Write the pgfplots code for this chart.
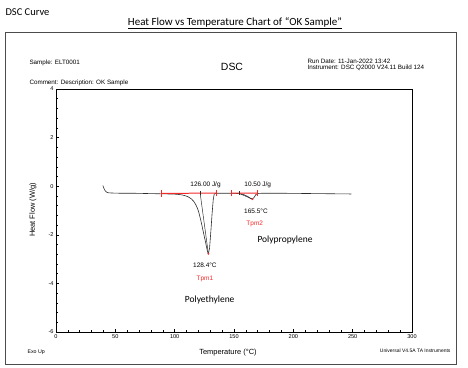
\documentclass[border=0pt]{standalone}
\usepackage{pgfplots}
\pgfplotsset{compat=1.18}
\usepackage{fontspec}
\setmainfont{Liberation Sans}
\newfontfamily\calibri{Carlito}
\definecolor{tared}{RGB}{245,40,40}
\definecolor{curve}{RGB}{45,45,45}
\begin{document}
\begin{tikzpicture}[x=1bp,y=1bp]
\path[use as bounding box] (0,0) rectangle (468,367);
% outer frame
\draw[gray!60!black, line width=0.9pt] (5,335) rectangle (456,3);
% titles
\node[anchor=west, font=\calibri\fontsize{10.5}{12}\selectfont] at (2,355) {DSC Curve};
\node[font=\calibri\fontsize{11}{13}\selectfont] at (235,344) {\underline{Heat Flow vs Temperature Chart of “OK Sample”}};
% header info
\node[anchor=west, font=\fontsize{6.3}{7.5}\selectfont] at (26,304) {Sample: ELT0001};
\node[font=\fontsize{10.5}{12}\selectfont] at (232,300) {DSC};
\node[anchor=west, font=\fontsize{6.3}{7.5}\selectfont, align=left] at (304,302) {Run Date: 11-Jan-2022 13:42\\[-1.5pt]Instrument: DSC Q2000 V24.11 Build 124};
\node[anchor=west, font=\fontsize{6.3}{7.5}\selectfont] at (26,284) {Comment: Description: OK Sample};
% footer
\node[anchor=west, font=\fontsize{5.3}{6}\selectfont] at (24,15) {Exo Up};
\node[font=\fontsize{7.5}{9}\selectfont] at (228,14) {Temperature (°C)};
\node[anchor=east, font=\fontsize{5}{6}\selectfont] at (454,16) {Universal V4.5A TA Instruments};
\node[rotate=90, font=\fontsize{7.5}{9}\selectfont] at (33,157) {Heat Flow (W/g)};
\begin{axis}[
  at={(56bp,35bp)}, anchor=south west, scale only axis,
  width=356bp, height=243bp,
  xmin=0, xmax=300, ymin=-6, ymax=4,
  xtick={0,50,...,300}, ytick={-6,-4,...,4},
  minor x tick num=4, minor y tick num=4,
  tick pos=left, tick align=inside,
  major tick length=3bp, minor tick length=1.6bp,
  tick style={black, line width=0.5pt},
  axis line style={black, line width=0.6pt},
  ticklabel style={font=\fontsize{5.6}{6.5}\selectfont},
  /pgf/number format/assume math mode=true,
  xticklabel style={yshift=1pt},
  yticklabel style={xshift=1pt},
  clip=false,
]
% curve
\addplot[curve, line width=0.6pt, smooth, tension=0.4] coordinates {
(39.5,0.03) (40.3,-0.08) (41.3,-0.18) (42.5,-0.24) (44,-0.27) (47,-0.28)
(55,-0.29) (65,-0.29) (75,-0.30) (85,-0.31) (95,-0.32) (101,-0.33)
(105,-0.35) (108,-0.38) (111,-0.43) (114,-0.52) (116,-0.62) (118,-0.78)
(120,-1.02) (122,-1.40) (124,-1.85) (126,-2.30) (127.5,-2.65) (128.4,-2.78)};
\addplot[curve, line width=0.6pt] coordinates {
(128.4,-2.78) (129.4,-2.55) (130.5,-1.85) (131.5,-1.15) (132.5,-0.55) (133.3,-0.33)};
\addplot[curve, line width=0.6pt, smooth, tension=0.4] coordinates {
(133.3,-0.33) (134.5,-0.29) (137,-0.29) (145,-0.29) (153,-0.30) (156,-0.32)
(159,-0.36) (161.5,-0.42) (163.5,-0.49) (165.5,-0.53) (167,-0.46)
(168.3,-0.35) (170,-0.30) (175,-0.29) (190,-0.29) (210,-0.30) (230,-0.31) (249,-0.32)};
% straight peak-construction lines
\addplot[curve, line width=0.5pt] coordinates {(121.5,-0.30) (128.4,-2.78)};
\addplot[curve, line width=0.5pt] coordinates {(154.5,-0.30) (165.5,-0.53)};
% red integration baselines (on top)
\addplot[tared, line width=1pt] coordinates {(89,-0.30) (135,-0.28)};
\addplot[tared, line width=1pt] coordinates {(148,-0.29) (170,-0.28)};
% limit markers
\addplot[tared, line width=0.7pt] coordinates {(89,-0.43) (89,-0.17)};
\addplot[tared, line width=0.7pt] coordinates {(135,-0.41) (135,-0.15)};
\addplot[tared, line width=0.7pt] coordinates {(148,-0.42) (148,-0.16)};
\addplot[tared, line width=0.7pt] coordinates {(170,-0.41) (170,-0.15)};
% black limit markers
\addplot[curve, line width=0.5pt] coordinates {(121.5,-0.20) (121.5,-0.36)};
\addplot[curve, line width=0.5pt] coordinates {(154.5,-0.20) (154.5,-0.36)};
% peak dots
\addplot[tared, only marks, mark=*, mark size=0.8pt] coordinates {(128.4,-2.78) (165.5,-0.53)};
% annotations
\node[font=\fontsize{6.5}{8}\selectfont, anchor=south] at (axis cs:126,-0.22) {126.00 J/g};
\node[font=\fontsize{6.5}{8}\selectfont, anchor=south] at (axis cs:170,-0.22) {10.50 J/g};
\node[font=\fontsize{6.5}{8}\selectfont] at (axis cs:168.5,-1.03) {165.5°C};
\node[font=\fontsize{6.5}{8}\selectfont, text=tared] at (axis cs:167.5,-1.57) {Tpm2};
\node[font=\calibri\fontsize{9.5}{11}\selectfont] at (axis cs:193,-2.2) {Polypropylene};
\node[font=\fontsize{6.5}{8}\selectfont] at (axis cs:125.5,-3.27) {128.4°C};
\node[font=\fontsize{6.5}{8}\selectfont, text=tared] at (axis cs:125.5,-3.82) {Tpm1};
\node[font=\calibri\fontsize{9.5}{11}\selectfont] at (axis cs:129.5,-4.7) {Polyethylene};
\end{axis}
\end{tikzpicture}
\end{document}
